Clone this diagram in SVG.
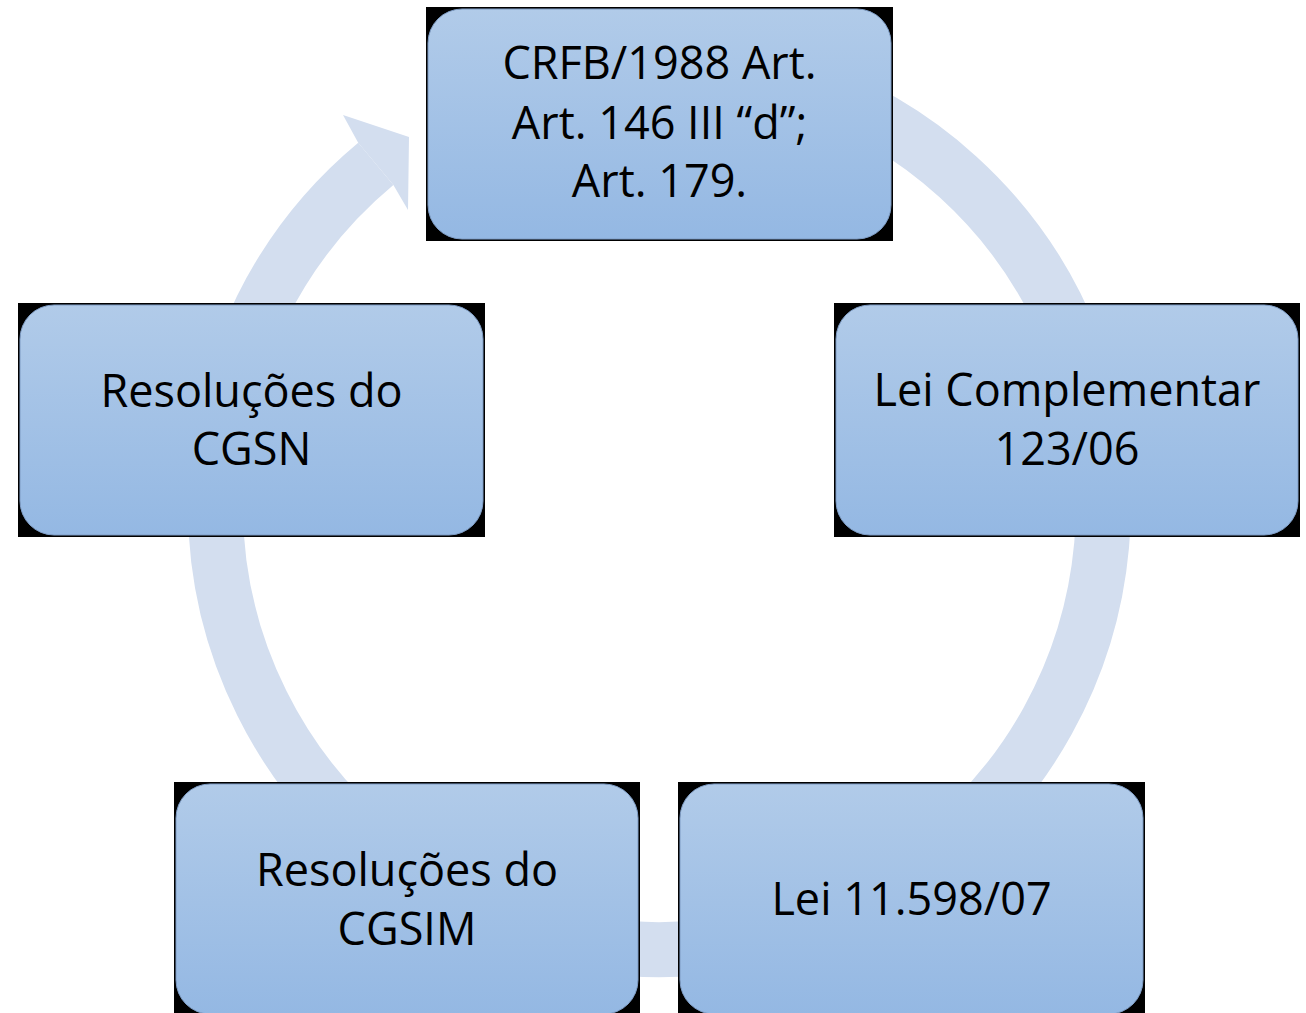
<svg xmlns="http://www.w3.org/2000/svg" width="1306" height="1013" viewBox="0 0 1306 1013">
  <defs>
    <linearGradient id="nodeFill" x1="0" y1="0" x2="0" y2="1">
      <stop offset="0" stop-color="#B1CBE9"/>
      <stop offset="1" stop-color="#94B8E3"/>
    </linearGradient>
    <style>
      .bg { fill: #000000; }
      .box { fill: url(#nodeFill); stroke: #7E9CC4; stroke-width: 1; }
      .lbl { font-family: "Open Sans", "Noto Sans", sans-serif; font-size: 45px; fill: #000000; text-anchor: middle; }
      .ring { fill: none; stroke: #D3DEEF; stroke-width: 55; }
      .head { fill: #D3DEEF; }
    </style>
  </defs>
  <rect width="1306" height="1013" fill="#FFFFFF"/>

  <g id="connectors">
    <path class="ring" d="M 799.5 84.2 A 444 444 0 1 1 375.8 163.9"/>
    <polygon class="head" points="358.2,142.8 343,115 409,137 408,210 393.4,185.1"/>
  </g>

  <g id="node-crfb">
    <rect class="bg" x="426" y="7" width="467" height="234"/>
    <rect class="box" x="428" y="9" width="463" height="230" rx="34" ry="34"/>
    <text class="lbl" x="659.5" y="79">CRFB/1988 Art.</text>
    <text class="lbl" x="659.5" y="139">Art. 146 III “d”;</text>
    <text class="lbl" x="659.5" y="197">Art. 179.</text>
  </g>

  <g id="node-lc123">
    <rect class="bg" x="834" y="303" width="466" height="234"/>
    <rect class="box" x="836" y="305" width="462" height="230" rx="34" ry="34"/>
    <text class="lbl" x="1067" y="406">Lei Complementar</text>
    <text class="lbl" x="1067" y="465">123/06</text>
  </g>

  <g id="node-lei11598">
    <rect class="bg" x="678" y="782" width="467" height="231"/>
    <rect class="box" x="680" y="784" width="463" height="230" rx="34" ry="34"/>
    <text class="lbl" x="911.5" y="915">Lei 11.598/07</text>
  </g>

  <g id="node-cgsim">
    <rect class="bg" x="174" y="782" width="466" height="231"/>
    <rect class="box" x="176" y="784" width="462" height="230" rx="34" ry="34"/>
    <text class="lbl" x="407" y="886">Resoluções do</text>
    <text class="lbl" x="407" y="945">CGSIM</text>
  </g>

  <g id="node-cgsn">
    <rect class="bg" x="18" y="303" width="467" height="234"/>
    <rect class="box" x="20" y="305" width="463" height="230" rx="34" ry="34"/>
    <text class="lbl" x="251.5" y="407">Resoluções do</text>
    <text class="lbl" x="251.5" y="465">CGSN</text>
  </g>
</svg>
